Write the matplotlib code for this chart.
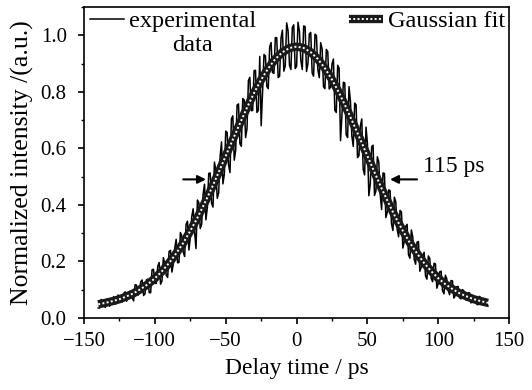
import numpy as np
import matplotlib
matplotlib.use("Agg")
import matplotlib.pyplot as plt
from matplotlib.ticker import MultipleLocator, FormatStrFormatter
from matplotlib.legend_handler import HandlerLine2D

plt.rcParams["font.family"] = ["Liberation Serif", "DejaVu Serif"]

# delay time grid of the measured trace (ps), 1 ps step
t_exp = np.arange(-140, 136)
i_exp = [
    0.035, 0.035, 0.065, 0.057, 0.043,
    0.037, 0.066, 0.066, 0.041, 0.053, 0.065, 0.075, 0.049, 0.051, 0.081,
    0.069, 0.060, 0.056, 0.087, 0.092, 0.059, 0.069, 0.093, 0.093, 0.070,
    0.060, 0.117, 0.116, 0.080, 0.087, 0.128, 0.134, 0.079, 0.085, 0.134,
    0.137, 0.089, 0.089, 0.170, 0.172, 0.122, 0.122, 0.182, 0.196, 0.119,
    0.131, 0.213, 0.189, 0.151, 0.143, 0.235, 0.239, 0.162, 0.191, 0.246,
    0.278, 0.195, 0.196, 0.302, 0.289, 0.233, 0.217, 0.331, 0.342, 0.240,
    0.284, 0.358, 0.386, 0.306, 0.245, 0.417, 0.408, 0.316, 0.331, 0.436,
    0.473, 0.347, 0.390, 0.511, 0.513, 0.405, 0.392, 0.551, 0.523, 0.423,
    0.442, 0.568, 0.623, 0.474, 0.508, 0.661, 0.656, 0.541, 0.514, 0.704,
    0.715, 0.558, 0.592, 0.753, 0.757, 0.616, 0.607, 0.776, 0.771, 0.638,
    0.669, 0.840, 0.851, 0.733, 0.734, 0.875, 0.876, 0.727, 0.734, 0.925,
    0.680, 0.801, 0.932, 0.927, 0.819, 0.811, 0.959, 0.974, 0.868, 0.865,
    0.992, 0.991, 0.850, 0.855, 0.990, 1.018, 0.873, 0.892, 1.044, 1.015,
    0.893, 0.879, 1.028, 1.037, 0.882, 0.890, 1.046, 1.014, 0.911, 0.879,
    1.033, 1.031, 0.872, 0.900, 1.005, 1.010, 0.866, 0.855, 1.004, 0.999,
    0.878, 0.850, 0.974, 0.952, 0.818, 0.811, 0.950, 0.942, 0.810, 0.816,
    0.899, 0.916, 0.734, 0.727, 0.894, 0.884, 0.627, 0.715, 0.834, 0.831,
    0.648, 0.638, 0.818, 0.767, 0.643, 0.607, 0.760, 0.754, 0.567, 0.574,
    0.679, 0.704, 0.525, 0.506, 0.675, 0.617, 0.432, 0.474, 0.606, 0.611,
    0.433, 0.449, 0.570, 0.552, 0.438, 0.383, 0.513, 0.511, 0.355, 0.374,
    0.453, 0.450, 0.331, 0.309, 0.427, 0.410, 0.313, 0.287, 0.380, 0.375,
    0.247, 0.270, 0.324, 0.331, 0.223, 0.211, 0.311, 0.286, 0.207, 0.190,
    0.268, 0.270, 0.165, 0.180, 0.219, 0.232, 0.148, 0.137, 0.219, 0.210,
    0.140, 0.128, 0.193, 0.191, 0.105, 0.122, 0.163, 0.165, 0.096, 0.085,
    0.151, 0.138, 0.097, 0.082, 0.132, 0.131, 0.070, 0.079, 0.110, 0.111,
    0.071, 0.067, 0.100, 0.096, 0.066, 0.062, 0.088, 0.089, 0.053, 0.056,
    0.075, 0.074, 0.049, 0.046, 0.076, 0.072, 0.046, 0.069, 0.050, 0.064,
    0.041,
]

# Gaussian fit curve
t_fit = np.arange(-140, 136, 5)
i_fit = [
    0.048, 0.053, 0.059, 0.066, 0.076, 0.087, 0.102, 0.119, 0.140, 0.165,
    0.194, 0.228, 0.265, 0.308, 0.354, 0.405, 0.458, 0.515, 0.573, 0.631,
    0.688, 0.744, 0.796, 0.843, 0.883, 0.916, 0.940, 0.955, 0.960, 0.955,
    0.940, 0.916, 0.883, 0.843, 0.796, 0.744, 0.688, 0.631, 0.573, 0.515,
    0.458, 0.405, 0.354, 0.308, 0.265, 0.228, 0.194, 0.165, 0.140, 0.119,
    0.102, 0.087, 0.076, 0.066, 0.059, 0.053,
]


class TopLine(HandlerLine2D):
    # put the handle level with the first line of a two-line label
    def create_artists(self, legend, orig_handle, xdescent, ydescent,
                       width, height, fontsize, trans):
        arts = super().create_artists(legend, orig_handle, xdescent, ydescent,
                                      width, height, fontsize, trans)
        for a in arts:
            a.set_ydata(np.asarray(a.get_ydata()) + 0.55 * fontsize)
        return arts


fig = plt.figure(figsize=(5.32, 3.90), dpi=100)
ax = fig.add_axes([0.158, 0.185, 0.799, 0.797])

l_exp, = ax.plot(t_exp, i_exp, color="black", lw=1.1)
l_fit1, = ax.plot(t_fit, i_fit, color="#1a1a1a", lw=6, solid_capstyle="butt")
l_fit2, = ax.plot(t_fit, i_fit, color="white", lw=1.4, linestyle=(0, (1, 1.2)))

# FWHM arrows
ax.annotate("", xy=(-62, 0.49), xytext=(-82, 0.49),
            arrowprops=dict(arrowstyle="-|>", color="black", lw=1.5,
                            mutation_scale=12))
ax.annotate("", xy=(64, 0.49), xytext=(87, 0.49),
            arrowprops=dict(arrowstyle="-|>", color="black", lw=1.5,
                            mutation_scale=12))
ax.text(89, 0.535, "115 ps", fontsize=17, va="center", ha="left")

top = TopLine()
leg = ax.legend([l_exp, (l_fit1, l_fit2)], ["experimental\ndata", "Gaussian fit\n "],
                ncol=2, frameon=False, loc="upper left", fontsize=17.5,
                bbox_to_anchor=(0.005, 1.0, 0.995, 0.0), mode="expand",
                handlelength=1.4, handletextpad=0.2, columnspacing=1.0,
                borderaxespad=0.05, borderpad=0.1,
                handler_map={l_exp: top, l_fit1: top, l_fit2: top})
for txt in leg.get_texts():
    txt.set_multialignment("center")

ax.set_xlim(-150, 150)
ax.set_ylim(0, 1.1)
ax.xaxis.set_major_locator(MultipleLocator(50))
ax.xaxis.set_minor_locator(MultipleLocator(25))
ax.yaxis.set_major_locator(MultipleLocator(0.2))
ax.yaxis.set_minor_locator(MultipleLocator(0.1))
ax.yaxis.set_major_formatter(FormatStrFormatter("%.1f"))
ax.tick_params(which="major", direction="out", length=4.5, width=1.2, labelsize=15)
ax.tick_params(which="minor", direction="out", length=2.5, width=1.0)
ax.tick_params(axis="x", which="major", pad=6)
ax.tick_params(axis="y", which="major", pad=8)
for s in ax.spines.values():
    s.set_linewidth(1.2)

ax.set_xlabel("Delay time / ps", fontsize=17, labelpad=5)
ax.set_ylabel("Normalized intensity /(a.u.)", fontsize=18.5, labelpad=5)

fig.savefig("out.png", dpi=100)
